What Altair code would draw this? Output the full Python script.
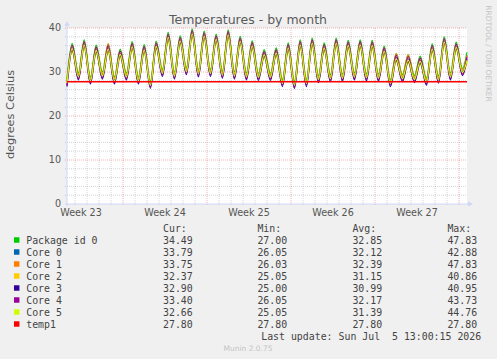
import altair as alt
import pandas as pd

# ---------------- data ----------------
series_names = ["Package id 0", "Core 0", "Core 1", "Core 2", "Core 3", "Core 4", "Core 5", "temp1"]
series_colors = ["#00CC00", "#0066B3", "#FF8000", "#FFCC00", "#330099", "#990099", "#CCFF00", "#FF0000"]

cur_values = [34.49, 33.79, 33.75, 32.37, 32.90, 33.40, 32.66, 27.80]
min_values = [27.00, 26.05, 26.03, 25.05, 25.00, 26.05, 25.05, 27.80]
avg_values = [32.85, 32.12, 32.39, 31.15, 30.99, 32.17, 31.39, 27.80]
max_values = [47.83, 42.88, 47.83, 40.86, 40.95, 43.73, 44.76, 27.80]

week_labels = ["Week 23", "Week 24", "Week 25", "Week 26", "Week 27"]
y_tick_values = [0, 10, 20, 30, 40]

# value at the left edge, daily evening peaks, daily morning troughs, value at the right edge
pkg_start = 28.5
pkg_peaks = [36.5, 37.3, 36.1, 36.4, 35.2, 36.9, 36.2, 37.0, 39.0, 38.2, 39.8, 39.3, 38.6, 39.6, 38.1, 37.1, 35.1,
             35.5, 36.6, 37.3, 37.7, 36.6, 37.7, 37.2, 37.3, 37.2, 35.9, 34.2, 33.9, 33.6, 36.4, 38.0, 36.8]
pkg_troughs = [29.8, 28.9, 30.0, 28.9, 29.8, 28.9, 27.9, 30.6, 30.0, 31.0, 30.5, 30.6, 30.2, 30.0, 29.8, 29.7, 29.7,
               28.3, 27.9, 28.3, 29.2, 29.4, 29.5, 29.8, 29.6, 29.5, 28.3, 29.4, 29.2, 28.6, 29.1, 29.8, 30.8]

core0_start = 27.8
core0_peaks = [35.6, 36.4, 35.2, 35.5, 34.3, 36.0, 35.3, 36.1, 38.1, 37.3, 38.9, 38.4, 37.7, 38.7, 37.2, 36.2, 34.2,
               34.6, 35.7, 36.4, 36.8, 35.7, 36.8, 36.3, 36.4, 36.3, 35.0, 33.3, 33.0, 32.7, 35.5, 37.1, 35.9]
core0_troughs = [29.1, 28.2, 29.3, 28.2, 29.1, 28.2, 27.2, 29.9, 29.3, 30.3, 29.8, 29.9, 29.5, 29.3, 29.1, 29.0, 29.0,
                 27.6, 27.2, 27.6, 28.5, 28.7, 28.8, 29.1, 28.9, 28.8, 27.6, 28.7, 28.5, 27.9, 28.4, 29.1, 30.1]

core1_start = 28.0
core1_peaks = [36.0, 36.8, 35.6, 36.4, 34.7, 36.4, 35.7, 36.5, 38.5, 37.7, 39.3, 38.8, 38.1, 39.1, 37.6, 36.6, 34.6,
               35.0, 36.1, 36.8, 37.2, 36.1, 37.2, 36.7, 36.8, 36.7, 35.4, 34.2, 33.9, 33.1, 35.9, 37.5, 36.3]
core1_troughs = [29.4, 28.5, 29.6, 28.5, 29.4, 28.5, 27.5, 30.2, 29.6, 30.6, 30.1, 30.2, 29.8, 29.6, 29.4, 29.3, 29.3,
                 27.9, 27.5, 27.9, 28.8, 29.0, 29.1, 29.4, 29.2, 29.1, 27.9, 29.0, 28.8, 28.2, 28.7, 29.4, 30.4]

core2_start = 27.2
core2_peaks = [34.8, 35.6, 34.4, 34.7, 33.5, 35.2, 34.5, 35.3, 37.3, 36.5, 38.1, 37.6, 36.9, 37.9, 36.4, 35.4, 33.4,
               33.8, 34.9, 35.6, 36.0, 34.9, 36.0, 35.5, 35.6, 35.5, 34.2, 32.5, 32.2, 31.9, 34.7, 36.3, 35.1]
core2_troughs = [28.6, 27.7, 28.8, 27.7, 28.6, 27.7, 26.7, 29.4, 28.8, 29.8, 29.3, 29.4, 29.0, 28.8, 28.6, 28.5, 28.5,
                 27.1, 26.7, 27.1, 28.0, 28.2, 28.3, 28.6, 28.4, 28.3, 27.1, 28.2, 28.0, 27.4, 27.9, 28.6, 29.6]

core3_start = 26.7
core3_peaks = [35.0, 35.8, 34.6, 34.9, 33.7, 35.4, 34.7, 35.5, 37.5, 36.7, 38.3, 37.8, 37.1, 38.1, 36.6, 35.6, 33.6,
               34.0, 35.1, 35.8, 36.2, 35.1, 36.2, 35.7, 35.8, 35.7, 34.4, 32.7, 32.4, 32.1, 34.9, 36.5, 35.3]
core3_troughs = [28.2, 27.3, 28.4, 27.3, 28.2, 27.3, 26.3, 29.0, 28.4, 29.4, 28.9, 29.0, 28.6, 28.4, 28.2, 28.1, 28.1,
                 26.7, 26.3, 26.7, 27.6, 27.8, 27.9, 28.2, 28.0, 27.9, 26.7, 27.8, 27.6, 27.0, 27.5, 28.2, 29.2]

core4_start = 27.0
core4_peaks = [36.1, 36.9, 35.7, 36.0, 34.8, 36.5, 35.8, 36.6, 38.6, 37.8, 39.4, 38.9, 38.2, 39.2, 37.7, 36.7, 34.7,
               35.1, 36.2, 36.9, 37.3, 36.2, 37.3, 36.8, 36.9, 36.8, 35.5, 33.8, 33.5, 33.2, 36.0, 37.6, 36.4]
core4_troughs = [28.5, 27.6, 28.7, 27.6, 28.5, 27.6, 26.6, 29.3, 28.7, 29.7, 29.2, 29.3, 28.9, 28.7, 28.5, 28.4, 28.4,
                 27.0, 26.6, 27.0, 27.9, 28.1, 28.2, 28.5, 28.3, 28.2, 27.0, 28.1, 27.9, 27.3, 27.8, 28.5, 29.5]

core5_start = 27.5
core5_peaks = [35.3, 36.1, 34.9, 35.2, 34.0, 35.7, 35.0, 35.8, 37.8, 37.0, 38.6, 38.1, 37.4, 38.4, 36.9, 35.9, 33.9,
               34.3, 35.4, 36.1, 36.5, 35.4, 36.5, 36.0, 36.1, 36.0, 34.7, 33.0, 32.7, 32.4, 35.2, 36.8, 35.6]
core5_troughs = [28.9, 28.0, 29.1, 28.0, 28.9, 28.0, 27.0, 29.7, 29.1, 30.1, 29.6, 29.7, 29.3, 29.1, 28.9, 28.8, 28.8,
                 27.4, 27.0, 27.4, 28.3, 28.5, 28.6, 28.9, 28.7, 28.6, 27.4, 28.5, 28.3, 27.7, 28.2, 28.9, 29.9]

temp1_values = [27.80, 27.80]

# ---------------- time axis (days from the left edge) ----------------
span_days = 33.33          # graph covers ~33 days
start_hour = 8.0           # left edge is 08:00
n_days = len(pkg_peaks)
peak_times = [k + 0.43 for k in range(n_days)]
trough_times = [k + 0.95 for k in range(n_days)]
first_midnight = (24.0 - start_hour) / 24.0
midnights = [first_midnight + k for k in range(int(span_days))]
week_starts = [m for i, m in enumerate(midnights) if i % 7 == 4]
week_mids = [week_starts[0] - 3.5 + 7 * i for i in range(len(week_labels))]


def series_frame(start, peaks, troughs, end):
    t, v = [0.0], [start]
    for i in range(n_days):
        t += [peak_times[i], trough_times[i]]
        v += [peaks[i], troughs[i]]
    t.append(span_days)
    v.append(end)
    return pd.DataFrame({"t": t, "v": v})


frames = [
    series_frame(pkg_start, pkg_peaks, pkg_troughs, cur_values[0]),
    series_frame(core0_start, core0_peaks, core0_troughs, cur_values[1]),
    series_frame(core1_start, core1_peaks, core1_troughs, cur_values[2]),
    series_frame(core2_start, core2_peaks, core2_troughs, cur_values[3]),
    series_frame(core3_start, core3_peaks, core3_troughs, cur_values[4]),
    series_frame(core4_start, core4_peaks, core4_troughs, cur_values[5]),
    series_frame(core5_start, core5_peaks, core5_troughs, cur_values[6]),
    pd.DataFrame({"t": [0.0, span_days], "v": temp1_values}),
]
line_widths = [1.25] * 7 + [1.6]

# ---------------- layout ----------------
W, H = 400, 176
PAD_L, PAD_T = 67, 28
FONT = "DejaVu Sans"
MONO = "DejaVu Sans Mono"
AXIS_COL = "#CFD6F8"
TXT = "#444444"

xs = alt.Scale(domain=[0, span_days], nice=False, zero=False)
ys = alt.Scale(domain=[0, 40], nice=False, zero=True)
one = pd.DataFrame({"k": [0]})

layers = []

# grid
minor_y = [v for v in range(2, 40, 2) if v % 10 != 0]
major_y = [10, 20, 30, 40]
minor_x = [m for m in midnights if m not in week_starts]
layers.append(alt.Chart(pd.DataFrame({"v": minor_y})).mark_rule(
    color="#8f8f8f", opacity=0.38, strokeDash=[1, 1], strokeWidth=1).encode(
    y=alt.Y("v:Q", scale=ys, axis=None), x=alt.value(-2), x2=alt.value(W)))
layers.append(alt.Chart(pd.DataFrame({"t": minor_x})).mark_rule(
    color="#8f8f8f", opacity=0.38, strokeDash=[1, 1], strokeWidth=1).encode(
    x=alt.X("t:Q", scale=xs, axis=None), y=alt.value(0), y2=alt.value(H + 2)))
layers.append(alt.Chart(pd.DataFrame({"v": major_y})).mark_rule(
    color="#de4f4f", opacity=0.42, strokeDash=[1, 1], strokeWidth=1).encode(
    y=alt.Y("v:Q", scale=ys, axis=None), x=alt.value(-2), x2=alt.value(W)))
layers.append(alt.Chart(pd.DataFrame({"t": week_starts})).mark_rule(
    color="#de4f4f", opacity=0.42, strokeDash=[1, 1], strokeWidth=1).encode(
    x=alt.X("t:Q", scale=xs, axis=None), y=alt.value(0), y2=alt.value(H + 2)))

# axes lines + arrows
layers.append(alt.Chart(one).mark_rule(color=AXIS_COL, strokeWidth=1).encode(
    x=alt.value(0), y=alt.value(-4), y2=alt.value(H + 2)))
layers.append(alt.Chart(one).mark_rule(color=AXIS_COL, strokeWidth=1).encode(
    y=alt.value(H), x=alt.value(-2), x2=alt.value(W + 3)))
layers.append(alt.Chart(one).mark_point(shape="triangle-up", filled=True, size=28, color=AXIS_COL, opacity=1).encode(
    x=alt.value(0), y=alt.value(-4.5)))
layers.append(alt.Chart(one).mark_point(shape="triangle-right", filled=True, size=28, color=AXIS_COL, opacity=1).encode(
    x=alt.value(W + 3.5), y=alt.value(H)))

# data lines (drawn in munin order, temp1 last)
for df, col, lw in zip(frames, series_colors, line_widths):
    layers.append(alt.Chart(df).mark_line(color=col, strokeWidth=lw, opacity=1, interpolate="monotone").encode(
        x=alt.X("t:Q", scale=xs, axis=None), y=alt.Y("v:Q", scale=ys, axis=None)))

# axis labels
layers.append(alt.Chart(pd.DataFrame({"v": y_tick_values})).mark_text(
    font=FONT, fontSize=9.6, color="#555555", align="right", baseline="middle").encode(
    y=alt.Y("v:Q", scale=ys, axis=None), x=alt.value(-6), text=alt.Text("v:Q")))
layers.append(alt.Chart(pd.DataFrame({"t": week_mids, "lab": week_labels})).mark_text(
    font=FONT, fontSize=9.6, color="#555555", align="center", baseline="alphabetic").encode(
    x=alt.X("t:Q", scale=xs, axis=None), y=alt.value(H + 12), text="lab:N"))

# titles and watermarks
layers.append(alt.Chart(one).mark_text(text="Temperatures - by month", font=FONT, fontSize=12.5,
                                       color="#5a5a5a", align="center", baseline="alphabetic").encode(
    x=alt.value(248 - PAD_L), y=alt.value(23.5 - PAD_T)))
layers.append(alt.Chart(one).mark_text(text="degrees Celsius", font=FONT, fontSize=11.3, angle=270,
                                       color="#555555", align="center", baseline="middle").encode(
    x=alt.value(11 - PAD_L), y=alt.value(114.5 - PAD_T)))
layers.append(alt.Chart(one).mark_text(text="RRDTOOL / TOBI OETIKER", font=FONT, fontSize=7.5, angle=90,
                                       color="#c4c4c4", align="center", baseline="middle").encode(
    x=alt.value(487.5 - PAD_L), y=alt.value(53.5 - PAD_T)))
layers.append(alt.Chart(one).mark_text(text="Munin 2.0.75", font=FONT, fontSize=7.5,
                                       color="#c4c4c4", align="center", baseline="alphabetic").encode(
    x=alt.value(248 - PAD_L), y=alt.value(351 - PAD_T)))

# legend
legend_df = pd.DataFrame({
    "name": series_names, "color": series_colors, "row": list(range(len(series_names))),
    "cur": cur_values, "min": min_values, "avg": avg_values, "max": max_values,
})
row_base = 243.8 - PAD_T
row_step = 12
legend = alt.Chart(legend_df).transform_calculate(
    py=f"{row_base} + {row_step} * datum.row",
    sq=f"{row_base - 3.8} + {row_step} * datum.row",
)
layers.append(legend.mark_square(size=30, opacity=1).encode(
    x=alt.value(16.7 - PAD_L), y=alt.Y("sq:Q", scale=None, axis=None), color=alt.Color("color:N", scale=None)))
layers.append(legend.mark_text(font=MONO, fontSize=9.9, color=TXT, align="left", baseline="alphabetic").encode(
    x=alt.value(26.2 - PAD_L), y=alt.Y("py:Q", scale=None, axis=None), text="name:N"))
col_x = {"cur": 163 - PAD_L, "min": 257.4 - PAD_L, "avg": 352.4 - PAD_L, "max": 447.4 - PAD_L}
col_head = {"cur": "Cur:", "min": "Min:", "avg": "Avg:", "max": "Max:"}
for key, px in col_x.items():
    layers.append(legend.mark_text(font=MONO, fontSize=9.9, color=TXT, align="left",
                                   baseline="alphabetic").encode(
        x=alt.value(px), y=alt.Y("py:Q", scale=None, axis=None), text=alt.Text(f"{key}:Q", format=".2f")))
    layers.append(alt.Chart(one).mark_text(text=col_head[key], font=MONO, fontSize=9.9, color=TXT,
                                           align="left", baseline="alphabetic").encode(
        x=alt.value(px), y=alt.value(row_base - row_step)))
layers.append(alt.Chart(one).mark_text(text="Last update: Sun Jul\u00a0\u00a05 13:00:15 2026", font=MONO,
                                       fontSize=9.9, color=TXT, align="left", baseline="alphabetic").encode(
    x=alt.value(261.2 - PAD_L), y=alt.value(row_base + row_step * len(series_names))))

chart = alt.layer(*layers).properties(
    width=W, height=H,
    autosize=alt.AutoSizeParams(type="none"),
    padding={"left": PAD_L, "top": PAD_T, "right": 497 - PAD_L - W, "bottom": 359 - PAD_T - H},
).configure(background="#F0F0F0").configure_view(fill="white", strokeWidth=0)

chart.save("out.html", embed_options={"renderer": "svg", "actions": False})
